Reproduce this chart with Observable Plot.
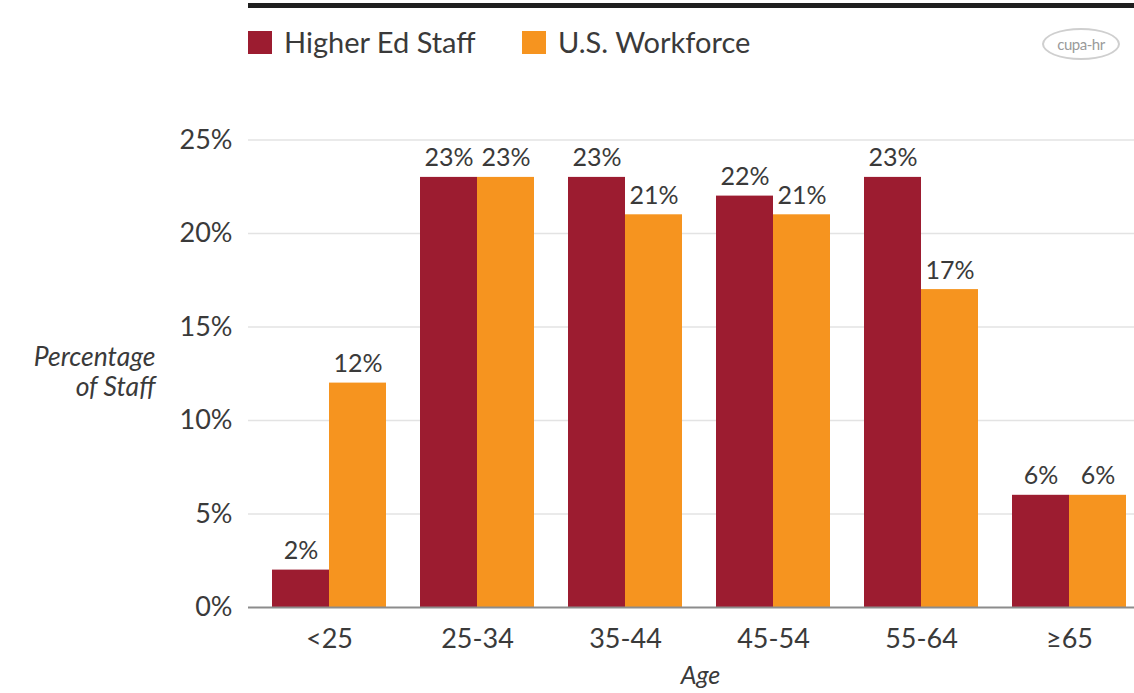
<!DOCTYPE html>
<html>
<head>
<meta charset="utf-8">
<script src="https://cdn.jsdelivr.net/npm/d3@7"></script>
<script src="https://cdn.jsdelivr.net/npm/@observablehq/plot@0.6"></script>
<style>
  html, body { margin: 0; padding: 0; background: #fff; }
  body { width: 1134px; height: 693px; overflow: hidden; font-family: Lato, "Open Sans", sans-serif; color: #3a3a3a; }
  #head { position: relative; height: 90px; width: 1134px; }
  #topline { position: absolute; left: 248px; top: 3px; width: 886px; height: 5px; background: #1f1f1f; }
  .item { position: absolute; top: 30px; height: 24px; display: flex; align-items: center; font-size: 29px; line-height: 24px; color: #3a3a3a; white-space: nowrap; }
  .sw { width: 24px; height: 23px; margin-right: 12px; }
  #logo { position: absolute; left: 1042px; top: 28px; width: 74px; height: 28px; border: 2px solid #cfcfcf; border-radius: 50%; display: flex; align-items: center; justify-content: center; font-size: 15px; color: #9a9a9a; letter-spacing: -0.5px; }
  #chart svg { display: block; }
</style>
</head>
<body>
<div id="head">
  <div id="topline"></div>
  <div class="item" style="left:248px"><div class="sw" id="sw1"></div><span id="lab1"></span></div>
  <div class="item" style="left:522px"><div class="sw" id="sw2"></div><span id="lab2"></span></div>
  <div id="logo">cupa-hr</div>
</div>
<div id="chart"></div>
<script>
const ages = ["<25", "25-34", "35-44", "45-54", "55-64", "≥65"];
const seriesNames = ["Higher Ed Staff", "U.S. Workforce"];
const higherEdStaff = [2, 23, 23, 22, 23, 6];
const usWorkforce = [12, 23, 21, 21, 17, 6];
const yTicks = [0, 5, 10, 15, 20, 25];
const colors = ["#9c1c30", "#f6941f"];

document.getElementById("sw1").style.background = colors[0];
document.getElementById("sw2").style.background = colors[1];
document.getElementById("lab1").textContent = seriesNames[0];
document.getElementById("lab2").textContent = seriesNames[1];

const edRows = ages.map((age, i) => ({age, value: higherEdStaff[i]}));
const usRows = ages.map((age, i) => ({age, value: usWorkforce[i]}));

const textColor = "#3a3a3a";
const half = 57;

const chart = Plot.plot({
  width: 1134,
  height: 603,
  marginTop: 49.5,
  marginBottom: 86,
  marginLeft: 248,
  marginRight: 0,
  style: {fontFamily: "Lato, 'Open Sans', sans-serif", color: textColor, background: "#fff"},
  x: {domain: ages, range: [270, 1127], paddingInner: 0.233, paddingOuter: 0},
  y: {domain: [0, 25]},
  marks: [
    Plot.ruleY(yTicks.filter(d => d > 0), {stroke: "#e3e3e3", strokeWidth: 1.5}),
    Plot.barY(edRows, {x: "age", y: "value", fill: colors[0], insetLeft: 0, insetRight: half}),
    Plot.barY(usRows, {x: "age", y: "value", fill: colors[1], insetLeft: half, insetRight: 0}),
    Plot.ruleY([0], {stroke: "#8c8c8c", strokeWidth: 2}),
    Plot.axisY({ticks: yTicks, tickFormat: d => d + "%", tickSize: 0, tickPadding: 16, fontSize: 27, label: null}),
    Plot.axisX({tickSize: 0, tickPadding: 21, fontSize: 27, label: null}),
    Plot.text(edRows, {x: "age", y: "value", text: d => d.value + "%", dx: -28.5, dy: -19, lineAnchor: "middle", fontSize: 25, fill: textColor}),
    Plot.text(usRows, {x: "age", y: "value", text: d => d.value + "%", dx: 28.5, dy: -19, lineAnchor: "middle", fontSize: 25, fill: textColor}),
    Plot.text(["Percentage\nof Staff"], {frameAnchor: "left", dx: -93, dy: -2, textAnchor: "end", lineAnchor: "middle", fontStyle: "italic", fontSize: 26.5, lineHeight: 1.12, fill: textColor}),
    Plot.text(["Age"], {frameAnchor: "bottom", dx: 9, dy: 68, lineAnchor: "middle", fontStyle: "italic", fontSize: 25, fill: textColor})
  ]
});
document.getElementById("chart").appendChild(chart);
</script>
</body>
</html>
